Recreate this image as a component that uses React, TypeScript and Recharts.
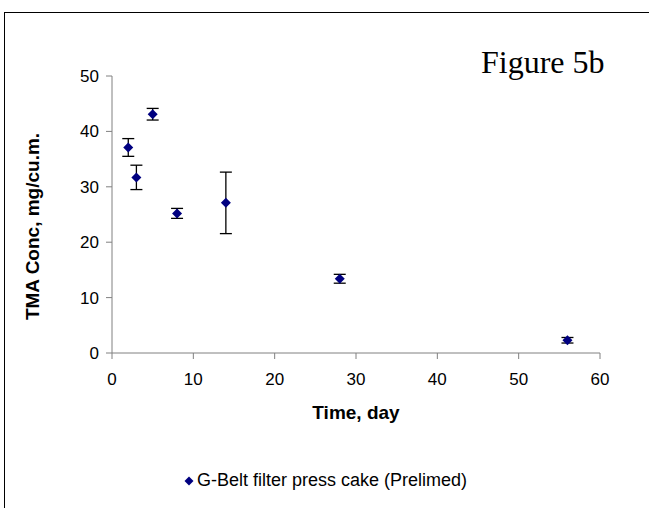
import { ScatterChart, Scatter, XAxis, YAxis, ErrorBar, Legend, Label } from 'recharts'

const days = [2, 3, 5, 8, 14, 28, 56]
const tmaConc = [37.1, 31.7, 43.1, 25.2, 27.1, 13.4, 2.3]
const tmaErr = [1.6, 2.2, 1.05, 0.9, 5.55, 0.8, 0.5]
const xTicks = [0, 10, 20, 30, 40, 50, 60]
const yTicks = [0, 10, 20, 30, 40, 50]
const seriesName = 'G-Belt filter press cake (Prelimed)'

const navy = '#000080'
const axisGray = '#808080'
const sans = '"Liberation Sans", Arial, sans-serif'

const chartData = days.map((d, i) => ({ day: d, conc: tmaConc[i], err: tmaErr[i] }))

const Diamond = (props: any) => {
  const { cx, cy } = props
  const r = 5
  return (
    <polygon
      points={`${cx},${cy - r} ${cx + r},${cy} ${cx},${cy + r} ${cx - r},${cy}`}
      fill={navy}
    />
  )
}

const LegendContent = () => (
  <div style={{ display: 'flex', alignItems: 'center', fontFamily: sans, fontSize: 18, color: '#000', whiteSpace: 'nowrap' }}>
    <svg width={10} height={10} style={{ marginRight: 3 }}>
      <polygon points="5,0.5 9.5,5 5,9.5 0.5,5" fill={navy} />
    </svg>
    <span>{seriesName}</span>
  </div>
)

export default function App() {
  const tickStyle = { fill: '#000', fontSize: 17, fontFamily: sans }
  return (
    <div style={{ position: 'absolute', left: 0, top: 0, width: 649, height: 508, background: '#fff', overflow: 'hidden' }}>
      <div
        style={{
          position: 'absolute',
          left: 4,
          top: 12,
          width: 660,
          height: 520,
          borderTop: '1px solid #000',
          borderLeft: '1px solid #000',
        }}
      />
      <div
        style={{
          position: 'absolute',
          left: 481,
          top: 46,
          fontFamily: '"Liberation Serif", "Times New Roman", serif',
          fontSize: 32,
          lineHeight: 1,
          color: '#000',
          whiteSpace: 'nowrap',
        }}
      >
        Figure 5b
      </div>
      <ScatterChart width={649} height={508} margin={{ top: 76, right: 49, bottom: 85, left: 12 }}>
        <XAxis
          type="number"
          dataKey="day"
          domain={[0, 60]}
          ticks={xTicks}
          height={70}
          stroke={axisGray}
          tickSize={6}
          tickMargin={14}
          tick={tickStyle}
        >
          <Label
            value="Time, day"
            position="insideBottom"
            offset={4}
            style={{ fill: '#000', fontSize: 19, fontWeight: 'bold', fontFamily: sans }}
          />
        </XAxis>
        <YAxis
          type="number"
          dataKey="conc"
          domain={[0, 50]}
          ticks={yTicks}
          width={100}
          stroke={axisGray}
          tickSize={6}
          tickMargin={7}
          tick={tickStyle}
        >
          <Label
            value="TMA Conc, mg/cu.m."
            angle={-90}
            position="insideLeft"
            offset={20}
            dy={12}
            style={{ textAnchor: 'middle', fill: '#000', fontSize: 19, fontWeight: 'bold', fontFamily: sans }}
          />
        </YAxis>
        <Scatter
          name={seriesName}
          data={chartData}
          fill={navy}
          shape={<Diamond />}
          isAnimationActive={false}
        >
          <ErrorBar dataKey="err" direction="y" width={6} stroke="#000" strokeWidth={1.3} isAnimationActive={false} />
        </Scatter>
        <Legend
          verticalAlign="middle"
          align="center"
          content={<LegendContent />}
          wrapperStyle={{ top: 470, left: 184, width: 'auto', height: 24 }}
        />
      </ScatterChart>
    </div>
  )
}
